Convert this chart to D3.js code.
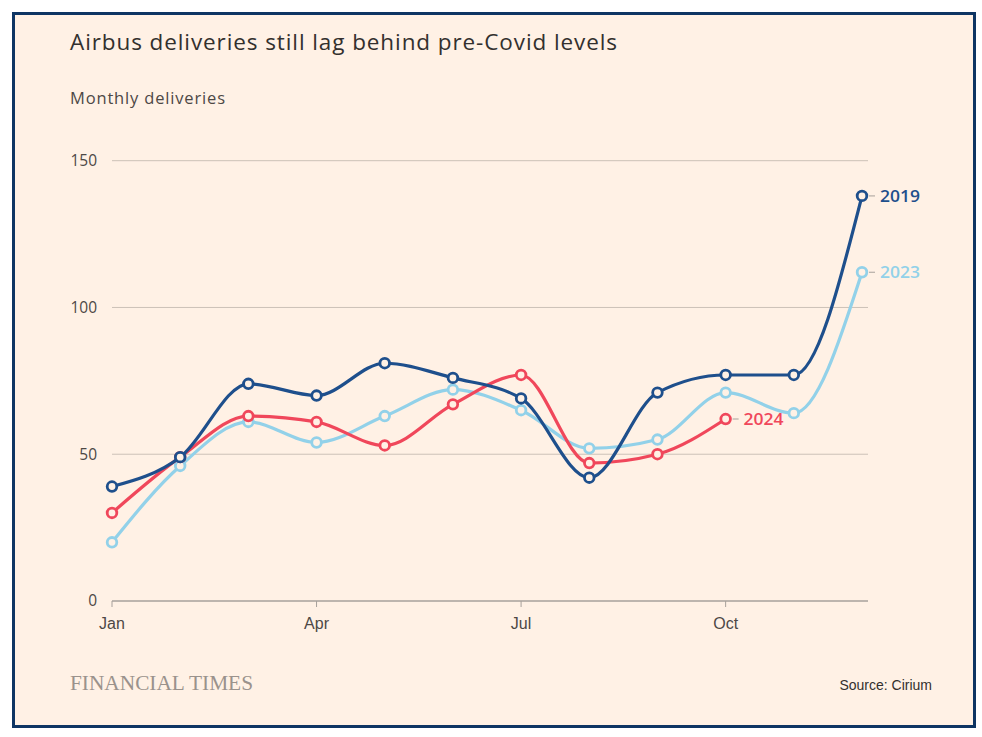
<!DOCTYPE html>
<html><head><meta charset="utf-8">
<script src="https://cdn.jsdelivr.net/npm/d3@7"></script>
<style>
html,body{margin:0;padding:0;background:#fff;}
svg{display:block;}
</style></head>
<body>
<script>
const months = ["Jan","Feb","Mar","Apr","May","Jun","Jul","Aug","Sep","Oct","Nov","Dec"];
const tickMonths = ["Jan","Apr","Jul","Oct"];
const yTicks = [0,50,100,150];
const deliveries2019 = [39,49,74,70,81,76,69,42,71,77,77,138];
const deliveries2023 = [20,46,61,54,63,72,65,52,55,71,64,112];
const deliveries2024 = [30,49,63,61,53,67,77,47,50,62];
const seriesNames = ["2023","2024","2019"];

const W = 982, H = 737;
const svg = d3.select("body").append("svg").attr("width", W).attr("height", H);
svg.append("rect").attr("x",0).attr("y",0).attr("width",W).attr("height",H).attr("fill","#fff");
svg.append("rect").attr("x",13.5).attr("y",13.5).attr("width",961).attr("height",713)
  .attr("fill","#fff1e5").attr("stroke","#0e3563").attr("stroke-width",3);

const font = "'Open Sans', sans-serif";
svg.append("text").attr("x",70).attr("y",50).attr("font-family",font).attr("font-size",22.5)
  .attr("textLength",547).attr("lengthAdjust","spacing")
  .attr("fill","#33302e").text("Airbus deliveries still lag behind pre-Covid levels");
svg.append("text").attr("x",70).attr("y",104).attr("font-family",font).attr("font-size",16.5)
  .attr("textLength",155).attr("lengthAdjust","spacing")
  .attr("fill","#4d4845").text("Monthly deliveries");

const x = d3.scalePoint().domain(months).range([112, 862]);
const y = d3.scaleLinear().domain([0,150]).range([601, 160.7]);

// gridlines
svg.append("g").selectAll("line").data(yTicks.filter(d=>d>0)).join("line")
  .attr("x1",112).attr("x2",868).attr("y1",d=>y(d)).attr("y2",d=>y(d))
  .attr("stroke","#ccc1b7").attr("stroke-width",1);
svg.append("g").selectAll("text").data(yTicks).join("text")
  .attr("x",97).attr("y",d=>y(d)).attr("dy","0.35em").attr("text-anchor","end")
  .attr("font-family",font).attr("font-size",15.5).attr("fill","#4d4845").text(d=>d);

// x axis
const xAxis = svg.append("g").attr("transform",`translate(0,${y(0)})`);
xAxis.append("line").attr("x1",112).attr("x2",868).attr("stroke","#a7a09b").attr("stroke-width",1.5);
xAxis.selectAll("line.t").data(tickMonths).join("line").attr("class","t")
  .attr("x1",d=>x(d)).attr("x2",d=>x(d)).attr("y1",0).attr("y2",6).attr("stroke","#a7a09b");
xAxis.selectAll("text").data(tickMonths).join("text")
  .attr("x",d=>x(d)).attr("y",28).attr("text-anchor","middle")
  .attr("font-family","'Liberation Sans Narrow', sans-serif").attr("font-size",16)
  .attr("fill","#4d4845").text(d=>d);

const colors = {"2019":"#1e4f8c","2023":"#92d1e9","2024":"#f0475b"};
const dataMap = {"2019":deliveries2019,"2023":deliveries2023,"2024":deliveries2024};
const line = d3.line().x((d,i)=>x(months[i])).y(d=>y(d)).curve(d3.curveMonotoneX);

seriesNames.forEach(name=>{
  const vals = dataMap[name];
  const g = svg.append("g");
  g.append("path").attr("d",line(vals)).attr("fill","none").attr("stroke",colors[name]).attr("stroke-width",3.2);
  g.selectAll("circle").data(vals).join("circle")
    .attr("cx",(d,i)=>x(months[i])).attr("cy",d=>y(d)).attr("r",4.8)
    .attr("fill","#fff1e5").attr("stroke",colors[name]).attr("stroke-width",2.8);
  const li = vals.length-1;
  const lx = x(months[li]), ly = y(vals[li]);
  g.append("line").attr("x1",lx+7).attr("x2",lx+13).attr("y1",ly).attr("y2",ly)
    .attr("stroke","#a7a09b").attr("stroke-width",1);
  g.append("text").attr("x",lx+18).attr("y",ly).attr("dy","0.35em")
    .attr("font-family",font).attr("font-size",16).attr("font-weight",600)
    .attr("textLength",40).attr("lengthAdjust","spacingAndGlyphs")
    .attr("fill",colors[name]).text(name);
});

svg.append("text").attr("x",70).attr("y",690).attr("font-family","'Liberation Serif', serif")
  .attr("font-size",20).attr("fill","#9a928c").attr("textLength",183).attr("lengthAdjust","spacingAndGlyphs")
  .text("FINANCIAL TIMES");
svg.append("text").attr("x",932).attr("y",690).attr("text-anchor","end")
  .attr("font-family","'Liberation Sans Narrow', sans-serif").attr("font-size",14)
  .attr("fill","#33302e").text("Source: Cirium");
</script>
</body></html>
